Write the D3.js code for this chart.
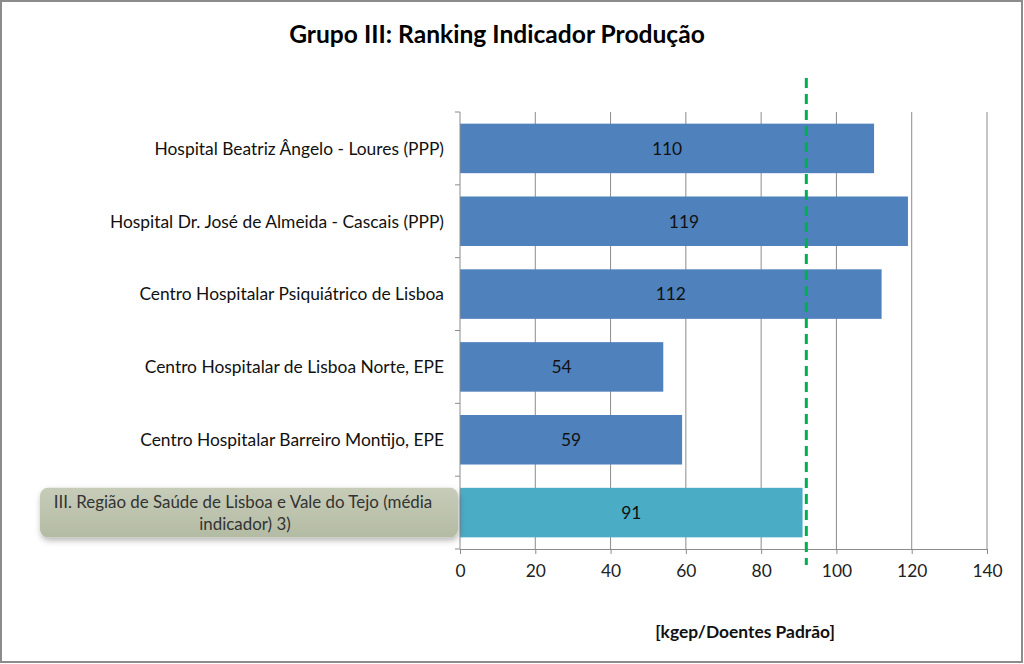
<!DOCTYPE html>
<html><head><meta charset="utf-8">
<script src="https://cdn.jsdelivr.net/npm/d3@7"></script>
<style>
body{margin:0;background:#fff;}
svg{display:block;font-family:Lato,"Open Sans",sans-serif;}
</style></head>
<body>
<svg id="chart" width="1024" height="664"></svg>
<script>
const categories = [
  "Hospital Beatriz Ângelo - Loures (PPP)",
  "Hospital Dr. José de Almeida - Cascais (PPP)",
  "Centro Hospitalar Psiquiátrico de Lisboa",
  "Centro Hospitalar de Lisboa Norte, EPE",
  "Centro Hospitalar Barreiro Montijo, EPE",
  "III. Região de Saúde de Lisboa e Vale do Tejo (média indicador) 3)"
];
const values = [110, 119, 112, 54, 59, 91];
const highlighted = [false, false, false, false, false, true];
const xTicks = [0, 20, 40, 60, 80, 100, 120, 140];
const referenceValue = 92;
const chartTitle = "Grupo III: Ranking Indicador Produção";
const xTitle = "[kgep/Doentes Padrão]";

(function(){
const svg = d3.select("#chart");
const pL = 460, pR = 987, pT = 112, pB = 549;
const fs = 17.4;

svg.append("rect").attr("x",1).attr("y",1).attr("width",1021).attr("height",661)
  .attr("fill","#fff").attr("stroke","#8c8c8c").attr("stroke-width",2);

const x = d3.scaleLinear().domain([0,140]).range([pL,pR]);
const y = d3.scaleBand().domain(categories).range([pT,pB]).paddingInner(0.32).paddingOuter(0.16);

// gridlines
svg.append("g").selectAll("line").data(xTicks.slice(1)).join("line")
  .attr("x1",d=>x(d)).attr("x2",d=>x(d)).attr("y1",pT).attr("y2",pB)
  .attr("stroke","#8c8c8c").attr("stroke-width",1);

// bars
svg.append("g").selectAll("rect").data(values).join("rect")
  .attr("x",x(0)).attr("y",(d,i)=>y(categories[i]))
  .attr("width",d=>x(d)-x(0)).attr("height",y.bandwidth())
  .attr("fill",(d,i)=>highlighted[i]?"#4BACC6":"#4F81BD");

// value labels
svg.append("g").selectAll("text").data(values).join("text")
  .attr("x",d=>(x(0)+x(d))/2).attr("y",(d,i)=>y(categories[i])+y.bandwidth()/2)
  .attr("dy","0.36em").attr("text-anchor","middle")
  .attr("font-size",fs).attr("fill","#111").text(d=>d);

// x axis
const xAxis = d3.axisBottom(x).tickValues(xTicks).tickSize(5).tickPadding(11);
const gx = svg.append("g").attr("transform",`translate(0,${pB})`).call(xAxis);
gx.select(".domain").attr("stroke","#8c8c8c").attr("d",`M${pL},0.5H${pR}`);
gx.selectAll(".tick line").attr("stroke","#8c8c8c");
gx.selectAll("text").attr("font-size",fs).attr("fill","#222").attr("font-family","Lato,'Open Sans',sans-serif");

// y axis line & ticks at band boundaries
const bounds = d3.range(categories.length+1).map(i=>pT + i*(pB-pT)/categories.length);
svg.append("line").attr("x1",pL).attr("x2",pL).attr("y1",pT).attr("y2",pB).attr("stroke","#8c8c8c");
svg.append("g").selectAll("line").data(bounds).join("line")
  .attr("x1",pL-5).attr("x2",pL).attr("y1",d=>d).attr("y2",d=>d).attr("stroke","#8c8c8c");

// category labels
const defs = svg.append("defs");
const grad = defs.append("linearGradient").attr("id","boxg").attr("x1",0).attr("y1",0).attr("x2",0).attr("y2",1);
grad.append("stop").attr("offset","0%").attr("stop-color","#c6ccb8");
grad.append("stop").attr("offset","100%").attr("stop-color","#b4bba3");
const flt = defs.append("filter").attr("id","sh").attr("x","-10%").attr("y","-30%").attr("width","130%").attr("height","180%");
flt.append("feDropShadow").attr("dx",1).attr("dy",3).attr("stdDeviation",3).attr("flood-color","#000").attr("flood-opacity",0.3);

categories.forEach((c,i)=>{
  const cy = y(c)+y.bandwidth()/2;
  if(highlighted[i]){
    svg.append("rect").attr("x",40).attr("y",y(c)).attr("width",418).attr("height",y.bandwidth())
      .attr("rx",8).attr("fill","url(#boxg)").attr("filter","url(#sh)");
    const t = svg.append("text").attr("x",243).attr("text-anchor","middle").attr("font-size",16.9).attr("fill","#333");
    t.append("tspan").attr("x",243).attr("y",cy-5).text("III. Região de Saúde de Lisboa e Vale do Tejo (média");
    t.append("tspan").attr("x",245).attr("y",cy+17).text("indicador) 3)");
  } else {
    svg.append("text").attr("x",444).attr("y",cy).attr("dy","0.36em").attr("text-anchor","end")
      .attr("font-size",fs).attr("fill","#111").text(c);
  }
});

// reference line
svg.append("line").attr("x1",x(referenceValue)).attr("x2",x(referenceValue)).attr("y1",78).attr("y2",565)
  .attr("stroke","#00B050").attr("stroke-width",3).attr("stroke-dasharray","10,6");

// titles
svg.append("text").attr("x",497).attr("y",43).attr("text-anchor","middle")
  .attr("font-size",24.6).attr("font-weight","bold").attr("fill","#000").text(chartTitle);
svg.append("text").attr("x",745).attr("y",638).attr("text-anchor","middle")
  .attr("font-size",fs).attr("font-weight","bold").attr("fill","#111").text(xTitle);
})();
</script>
</body></html>
